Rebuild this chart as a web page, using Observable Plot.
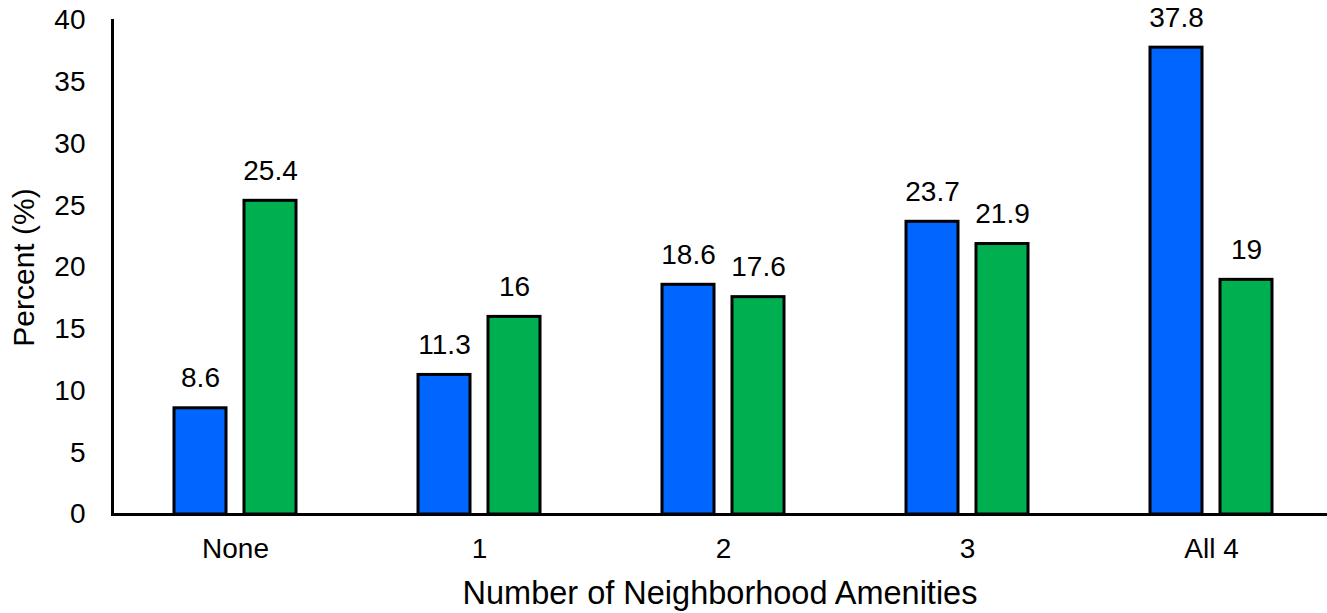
<!DOCTYPE html>
<html><head><meta charset="utf-8">
<script src="https://cdn.jsdelivr.net/npm/d3@7"></script>
<script src="https://cdn.jsdelivr.net/npm/@observablehq/plot@0.6"></script>
<style>body{margin:0;background:#fff}</style>
</head><body><div id="chart"></div>
<script>
const categories = ["None", "1", "2", "3", "All 4"];
const seriesBlue = [8.6, 11.3, 18.6, 23.7, 37.8];
const seriesGreen = [25.4, 16, 17.6, 21.9, 19];
const yTicks = [0, 5, 10, 15, 20, 25, 30, 35, 40];
const xTitle = "Number of Neighborhood Amenities";
const yTitle = "Percent (%)";

const rowsBlue = categories.map((c, i) => ({category: c, value: seriesBlue[i]}));
const rowsGreen = categories.map((c, i) => ({category: c, value: seriesGreen[i]}));

const font = "'Liberation Sans', Arial, sans-serif";
const chart = Plot.plot({
  width: 1327,
  height: 613,
  marginLeft: 112,
  marginRight: 0,
  marginTop: 20,
  marginBottom: 99,
  style: {fontFamily: font, fontSize: "28px", color: "#000", background: "#fff", overflow: "visible"},
  x: {domain: categories, range: [112, 1334], paddingInner: 0.787, paddingOuter: 0.3935},
  y: {domain: [0, 40]},
  marks: [
    Plot.barY(rowsBlue, {x: "category", y: "value", fill: "#0066FF", stroke: "#000", strokeWidth: 3, dx: -35}),
    Plot.barY(rowsGreen, {x: "category", y: "value", fill: "#00B050", stroke: "#000", strokeWidth: 3, dx: 35}),
    Plot.text(rowsBlue, {x: "category", y: "value", text: d => String(d.value), dx: -35, dy: -30, fontSize: 28, fill: "#000"}),
    Plot.text(rowsGreen, {x: "category", y: "value", text: d => String(d.value), dx: 35, dy: -30, fontSize: 28, fill: "#000"}),
    Plot.axisY({ticks: yTicks, tickSize: 0, tickPadding: 27, label: null, fontSize: 28}),
    Plot.axisY({ticks: [], tickSize: 0, label: yTitle, labelArrow: "none", labelAnchor: "center", labelOffset: 100, fontSize: 30}),
    Plot.axisX({tickSize: 0, tickPadding: 24, label: null, fontSize: 28}),
    Plot.axisX({ticks: [], tickSize: 0, label: xTitle, labelArrow: "none", labelAnchor: "center", labelOffset: 89, fontSize: 32.5}),
    Plot.ruleY([0], {stroke: "#000", strokeWidth: 3}),
    Plot.frame({anchor: "left", stroke: "#000", strokeWidth: 3})
  ]
});
document.getElementById("chart").appendChild(chart);
</script>
</body></html>
